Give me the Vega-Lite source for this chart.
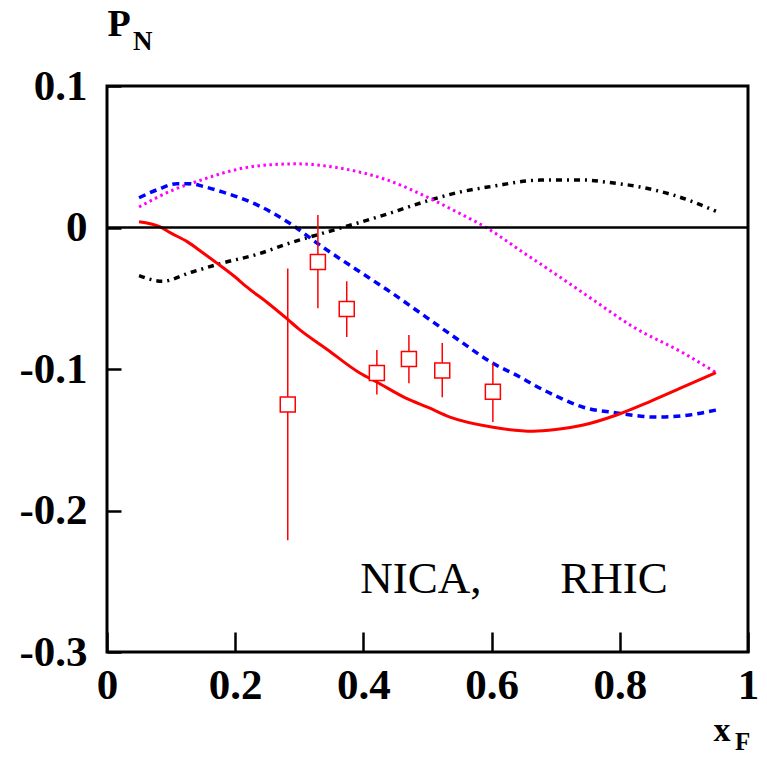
{
  "$schema": "https://vega.github.io/schema/vega-lite/v6.json",
  "width": 641,
  "height": 566,
  "autosize": {"type": "none"},
  "padding": {"left": 107, "top": 86, "right": 19, "bottom": 106},
  "background": "white",
  "config": {
    "view": {"stroke": "black", "strokeWidth": 3},
    "font": "Liberation Serif"
  },
  "datasets": {
    "curves": [
      {"s": "red", "x": 0.05, "y": 0.004},
      {"s": "red", "x": 0.083, "y": 0.0004},
      {"s": "red", "x": 0.1, "y": -0.004},
      {"s": "red", "x": 0.125, "y": -0.010},
      {"s": "red", "x": 0.15, "y": -0.018},
      {"s": "red", "x": 0.171, "y": -0.025},
      {"s": "red", "x": 0.2, "y": -0.035},
      {"s": "red", "x": 0.218, "y": -0.042},
      {"s": "red", "x": 0.25, "y": -0.053},
      {"s": "red", "x": 0.282, "y": -0.065},
      {"s": "red", "x": 0.3, "y": -0.072},
      {"s": "red", "x": 0.343, "y": -0.086},
      {"s": "red", "x": 0.395, "y": -0.103},
      {"s": "red", "x": 0.42, "y": -0.109},
      {"s": "red", "x": 0.468, "y": -0.121},
      {"s": "red", "x": 0.5, "y": -0.127},
      {"s": "red", "x": 0.535, "y": -0.134},
      {"s": "red", "x": 0.6, "y": -0.141},
      {"s": "red", "x": 0.665, "y": -0.144},
      {"s": "red", "x": 0.7, "y": -0.1428},
      {"s": "red", "x": 0.743, "y": -0.1396},
      {"s": "red", "x": 0.795, "y": -0.1325},
      {"s": "red", "x": 0.847, "y": -0.123},
      {"s": "red", "x": 0.899, "y": -0.1127},
      {"s": "red", "x": 0.95, "y": -0.1025},
      {"s": "blue", "x": 0.05, "y": 0.021},
      {"s": "blue", "x": 0.08, "y": 0.027},
      {"s": "blue", "x": 0.109, "y": 0.031},
      {"s": "blue", "x": 0.13, "y": 0.031},
      {"s": "blue", "x": 0.15, "y": 0.029},
      {"s": "blue", "x": 0.181, "y": 0.025},
      {"s": "blue", "x": 0.234, "y": 0.016},
      {"s": "blue", "x": 0.285, "y": 0.003},
      {"s": "blue", "x": 0.337, "y": -0.014},
      {"s": "blue", "x": 0.39, "y": -0.030},
      {"s": "blue", "x": 0.437, "y": -0.044},
      {"s": "blue", "x": 0.5, "y": -0.064},
      {"s": "blue", "x": 0.55, "y": -0.080},
      {"s": "blue", "x": 0.602, "y": -0.096},
      {"s": "blue", "x": 0.644, "y": -0.1056},
      {"s": "blue", "x": 0.665, "y": -0.111},
      {"s": "blue", "x": 0.7, "y": -0.119},
      {"s": "blue", "x": 0.743, "y": -0.127},
      {"s": "blue", "x": 0.795, "y": -0.131},
      {"s": "blue", "x": 0.858, "y": -0.134},
      {"s": "blue", "x": 0.909, "y": -0.1325},
      {"s": "blue", "x": 0.95, "y": -0.129},
      {"s": "magenta", "x": 0.05, "y": 0.0145},
      {"s": "magenta", "x": 0.103, "y": 0.0265},
      {"s": "magenta", "x": 0.15, "y": 0.034},
      {"s": "magenta", "x": 0.181, "y": 0.0385},
      {"s": "magenta", "x": 0.234, "y": 0.0435},
      {"s": "magenta", "x": 0.296, "y": 0.045},
      {"s": "magenta", "x": 0.363, "y": 0.042},
      {"s": "magenta", "x": 0.437, "y": 0.0336},
      {"s": "magenta", "x": 0.509, "y": 0.0194},
      {"s": "magenta", "x": 0.55, "y": 0.010},
      {"s": "magenta", "x": 0.593, "y": -0.0004},
      {"s": "magenta", "x": 0.644, "y": -0.016},
      {"s": "magenta", "x": 0.7, "y": -0.033},
      {"s": "magenta", "x": 0.758, "y": -0.051},
      {"s": "magenta", "x": 0.82, "y": -0.070},
      {"s": "magenta", "x": 0.899, "y": -0.0887},
      {"s": "magenta", "x": 0.95, "y": -0.1025},
      {"s": "black", "x": 0.05, "y": -0.034},
      {"s": "black", "x": 0.087, "y": -0.038},
      {"s": "black", "x": 0.129, "y": -0.032},
      {"s": "black", "x": 0.181, "y": -0.025},
      {"s": "black", "x": 0.234, "y": -0.019},
      {"s": "black", "x": 0.285, "y": -0.011},
      {"s": "black", "x": 0.337, "y": -0.004},
      {"s": "black", "x": 0.39, "y": 0.003},
      {"s": "black", "x": 0.437, "y": 0.0095},
      {"s": "black", "x": 0.504, "y": 0.0194},
      {"s": "black", "x": 0.55, "y": 0.025},
      {"s": "black", "x": 0.6, "y": 0.029},
      {"s": "black", "x": 0.676, "y": 0.0335},
      {"s": "black", "x": 0.743, "y": 0.0336},
      {"s": "black", "x": 0.78, "y": 0.032},
      {"s": "black", "x": 0.832, "y": 0.0286},
      {"s": "black", "x": 0.883, "y": 0.023},
      {"s": "black", "x": 0.95, "y": 0.0115}
    ],
    "points": [
      {"x": 0.282, "y": -0.125, "lo": -0.221, "hi": -0.029},
      {"x": 0.329, "y": -0.0244, "lo": -0.057, "hi": 0.0088},
      {"x": 0.374, "y": -0.0576, "lo": -0.0774, "hi": -0.038},
      {"x": 0.421, "y": -0.1028, "lo": -0.118, "hi": -0.0866},
      {"x": 0.471, "y": -0.093, "lo": -0.110, "hi": -0.076},
      {"x": 0.523, "y": -0.101, "lo": -0.120, "hi": -0.0816},
      {"x": 0.602, "y": -0.116, "lo": -0.1375, "hi": -0.096}
    ],
    "labels": [
      {"label": "NICA,", "x": 0.395, "y": -0.258},
      {"label": "RHIC", "x": 0.707, "y": -0.258}
    ]
  },
  "layer": [
    {
      "data": {"name": "curves"},
      "transform": [{"filter": "datum.s === 'black'"}],
      "mark": {"type": "line", "color": "black", "strokeWidth": 3.5, "strokeDash": [6, 5, 2, 5], "interpolate": "monotone", "clip": true},
      "encoding": {
        "x": {"field": "x", "type": "quantitative", "scale": {"domain": [0, 1], "nice": false, "zero": false},
          "axis": {
            "values": [0, 0.2, 0.4, 0.6, 0.8, 1],
            "domain": false, "grid": false,
            "tickSize": -20, "tickWidth": 2.5, "tickColor": "black",
            "labelExpr": "format(datum.value, '.1~f')",
            "labelFont": "Liberation Serif", "labelFontWeight": "bold", "labelFontSize": 43, "labelColor": "black",
            "labelPadding": 32, "labelFlush": false, "labelOverlap": false,
            "title": "x", "titleFont": "Liberation Serif", "titleFontWeight": "bold", "titleFontSize": 34, "titleColor": "black",
            "titleX": 606, "titleY": 88, "titleAlign": "left", "titleBaseline": "alphabetic", "titleAnchor": null
          }
        },
        "y": {"field": "y", "type": "quantitative", "scale": {"domain": [-0.3, 0.1], "nice": false, "zero": false},
          "axis": {
            "values": [-0.3, -0.2, -0.1, 0, 0.1],
            "domain": false, "grid": false,
            "tickSize": -14, "tickWidth": 2.5, "tickColor": "black",
            "labelExpr": "replace(format(datum.value, '.1~f'), '\u2212', '-')",
            "labelFont": "Liberation Serif", "labelFontWeight": "bold", "labelFontSize": 43, "labelColor": "black",
            "labelPadding": 34, "labelFlush": false, "labelOverlap": false,
            "title": "P", "titleFont": "Liberation Serif", "titleFontWeight": "bold", "titleFontSize": 38, "titleColor": "black",
            "titleAngle": 0, "titleX": 0, "titleY": -51, "titleAlign": "left", "titleBaseline": "alphabetic", "titleAnchor": null
          }
        }
      }
    },
    {
      "data": {"name": "curves"},
      "transform": [{"filter": "datum.s === 'magenta'"}],
      "mark": {"type": "line", "color": "#ff00ff", "strokeWidth": 3, "strokeDash": [2.5, 3.5], "interpolate": "monotone", "clip": true},
      "encoding": {"x": {"field": "x", "type": "quantitative"}, "y": {"field": "y", "type": "quantitative"}}
    },
    {
      "data": {"name": "curves"},
      "transform": [{"filter": "datum.s === 'blue'"}],
      "mark": {"type": "line", "color": "#0000ff", "strokeWidth": 3.5, "strokeDash": [7, 5], "interpolate": "monotone", "clip": true},
      "encoding": {"x": {"field": "x", "type": "quantitative"}, "y": {"field": "y", "type": "quantitative"}}
    },
    {
      "data": {"name": "curves"},
      "transform": [{"filter": "datum.s === 'red'"}],
      "mark": {"type": "line", "color": "#ff0000", "strokeWidth": 3, "interpolate": "monotone", "clip": true},
      "encoding": {"x": {"field": "x", "type": "quantitative"}, "y": {"field": "y", "type": "quantitative"}}
    },
    {
      "data": {"values": [{"y": 0}]},
      "mark": {"type": "rule", "color": "black", "strokeWidth": 2.5},
      "encoding": {"y": {"field": "y", "type": "quantitative"}}
    },
    {
      "data": {"name": "points"},
      "mark": {"type": "rule", "color": "#ff0000", "strokeWidth": 1.5},
      "encoding": {
        "x": {"field": "x", "type": "quantitative"},
        "y": {"field": "lo", "type": "quantitative"},
        "y2": {"field": "hi"}
      }
    },
    {
      "data": {"name": "points"},
      "mark": {"type": "square", "filled": true, "fill": "white", "stroke": "#ff0000", "strokeWidth": 1.5, "size": 225, "opacity": 1},
      "encoding": {
        "x": {"field": "x", "type": "quantitative"},
        "y": {"field": "y", "type": "quantitative"}
      }
    },
    {
      "data": {"name": "labels"},
      "mark": {"type": "text", "font": "Liberation Serif", "fontSize": 45, "align": "left", "baseline": "alphabetic", "color": "black"},
      "encoding": {
        "x": {"field": "x", "type": "quantitative"},
        "y": {"field": "y", "type": "quantitative"},
        "text": {"field": "label"}
      }
    },
    {
      "data": {"values": [{"t": "N"}]},
      "mark": {"type": "text", "font": "Liberation Serif", "fontWeight": "bold", "fontSize": 27, "align": "left", "baseline": "alphabetic", "color": "black", "dx": 26, "dy": -36},
      "encoding": {
        "x": {"datum": 0},
        "y": {"datum": 0.1},
        "text": {"field": "t"}
      }
    },
    {
      "data": {"values": [{"t": "F"}]},
      "mark": {"type": "text", "font": "Liberation Serif", "fontWeight": "bold", "fontSize": 25, "align": "left", "baseline": "alphabetic", "color": "black", "dx": -13, "dy": 98},
      "encoding": {
        "x": {"datum": 1},
        "y": {"datum": -0.3},
        "text": {"field": "t"}
      }
    }
  ]
}
